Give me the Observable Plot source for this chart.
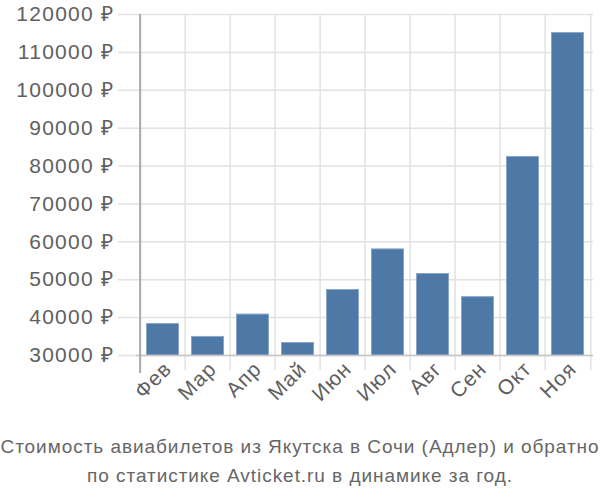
<!DOCTYPE html>
<html>
<head>
<meta charset="utf-8">
<script src="https://cdn.jsdelivr.net/npm/d3@7"></script>
<script src="https://cdn.jsdelivr.net/npm/@observablehq/plot@0.6"></script>
<style>
  body { margin: 0; background: #fff; font-family: "Liberation Sans", Arial, sans-serif; }
  #caption { width: 600px; text-align: center; color: #666; font-size: 19px; line-height: 29px; margin-top: 7px; letter-spacing: 0.95px; white-space: nowrap; }
  .yax text { letter-spacing: 1.3px; }
  .xax text { letter-spacing: 1px; }
</style>
</head>
<body>
<div id="chart"></div>
<div id="caption">Стоимость авиабилетов из Якутска в Сочи (Адлер) и обратно<br>по статистике Avticket.ru в динамике за год.</div>
<script>
const months = ["Фев", "Мар", "Апр", "Май", "Июн", "Июл", "Авг", "Сен", "Окт", "Ноя"];
const prices = [38300, 34900, 40800, 33300, 47300, 58000, 51500, 45400, 82400, 115100];
const yTicks = [30000, 40000, 50000, 60000, 70000, 80000, 90000, 100000, 110000, 120000];

const data = months.map((m, i) => ({month: m, price: prices[i]}));

const width = 600, marginLeft = 136, marginRight = 7;
const bw = (width - marginLeft - marginRight) / months.length;

const chart = Plot.plot({
  width: width,
  height: 425,
  marginTop: 14,
  marginBottom: 70,
  marginLeft: marginLeft,
  marginRight: marginRight,
  style: {fontFamily: "'Liberation Sans', Arial, sans-serif", background: "#fff"},
  x: {domain: months, padding: 0, label: null},
  y: {domain: [30000, 120000], ticks: yTicks, label: null},
  marks: [
    Plot.ruleY(yTicks, {y: d => d, stroke: "#e2e2e2", strokeWidth: 1.5, insetLeft: -18}),
    Plot.ruleX(months, {x: d => d, dx: -bw / 2, stroke: "#e2e2e2", strokeWidth: 1.5, insetBottom: -15}),
    Plot.ruleX([months[months.length - 1]], {x: d => d, dx: bw / 2, stroke: "#e2e2e2", strokeWidth: 1.5, insetBottom: -15}),
    Plot.barY(data, {x: "month", y1: 30000, y2: "price", fill: "#4e79a7", stroke: "#8aa6c6", strokeWidth: 1, insetLeft: 6.5, insetRight: 6.5}),
    Plot.ruleY([30000], {stroke: "#c4c4c4", strokeWidth: 1.5}),
    Plot.ruleX([months[0]], {x: d => d, dx: -bw / 2, stroke: "#aaaaaa", strokeWidth: 2, insetBottom: -18}),
    Plot.axisY({ticks: yTicks, tickSize: 0, tickPadding: 22, tickFormat: d => d + " ₽", fontSize: 21, color: "#606060", label: null, className: "yax"}),
    Plot.axisX({tickSize: 0, tickPadding: 10, dx: 5, tickRotate: -45, fontSize: 21, color: "#606060", label: null, className: "xax"})
  ]
});
document.getElementById("chart").appendChild(chart);
</script>
</body>
</html>
